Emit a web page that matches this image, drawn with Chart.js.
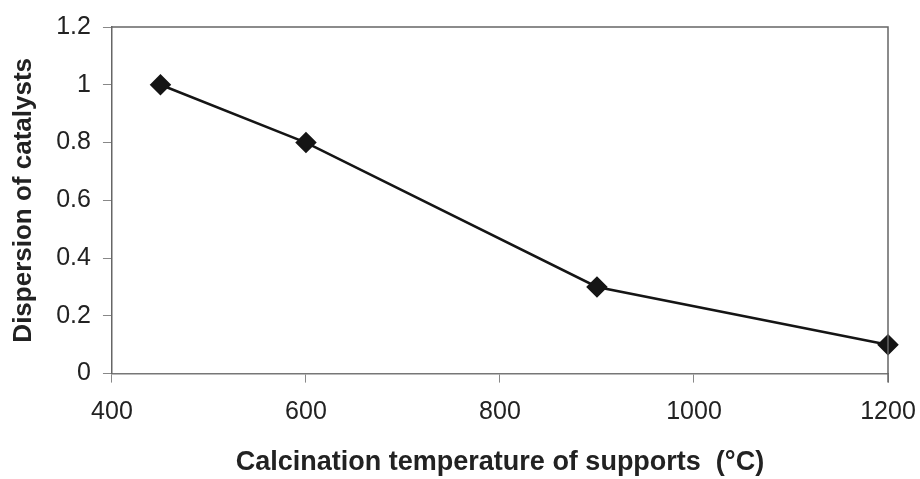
<!DOCTYPE html>
<html>
<head>
<meta charset="utf-8">
<script src="https://cdn.jsdelivr.net/npm/chart.js@4"></script>
<style>
  body { margin: 0; background: #fff; }
  #wrap { width: 920px; height: 479px; }
</style>
</head>
<body>
<div id="wrap"><canvas id="grafico" width="920" height="479"></canvas></div>
<script>
// calcination temperature (oC) vs dispersion
var temperaturas = [450, 600, 900, 1200];
var dispersion = [1.0, 0.8, 0.3, 0.1];
var x_ticks = [400, 600, 800, 1000, 1200];
var y_ticks = [0, 0.2, 0.4, 0.6, 0.8, 1, 1.2];

var puntos = [];
for (i = 0; i < temperaturas.length; i++) {
    puntos.push({ x: temperaturas[i], y: dispersion[i] });
}

// top + right frame of the plot area
var marco = {
    id: 'marco',
    afterDraw: function (chart) {
        var a = chart.chartArea;
        var c = chart.ctx;
        c.save();
        c.strokeStyle = '#666';
        c.lineWidth = 1.5;
        c.beginPath();
        c.moveTo(a.left, a.top);
        c.lineTo(a.right, a.top);
        c.lineTo(a.right, a.bottom + 9);
        c.stroke();
        c.restore();
    }
};

var ctx = document.getElementById('grafico').getContext('2d');
var chart_disp = new Chart(ctx, {
    type: 'line',
    data: {
        datasets: [{
            data: puntos,
            borderColor: '#151515',
            backgroundColor: '#151515',
            borderWidth: 2.5,
            pointStyle: 'rectRot',
            pointRadius: 9,
            pointHoverRadius: 9,
            tension: 0,
            fill: false,
            clip: false
        }]
    },
    options: {
        responsive: false,
        animation: false,
        layout: { padding: { top: 7, right: 0, left: 8, bottom: 0 } },
        plugins: { legend: { display: false }, tooltip: { enabled: false } },
        scales: {
            x: {
                type: 'linear',
                min: 400,
                max: 1200,
                afterBuildTicks: function (axis) {
                    axis.ticks = x_ticks.map(function (v) { return { value: v }; });
                },
                afterFit: function (axis) {
                    // room for the half of "1200" only
                    axis.paddingRight = 32;
                },
                grid: { drawOnChartArea: false, drawTicks: true, tickLength: 9, color: '#888' },
                border: { color: '#777', width: 1.5, dash: [6, 3] },
                ticks: {
                    color: '#222',
                    padding: 15,
                    maxRotation: 0,
                    callback: function (v) { return String(v); },
                    font: { family: 'Liberation Sans', size: 25 }
                },
                title: {
                    display: true,
                    text: 'Calcination temperature of supports  (\u00B0C)',
                    color: '#222',
                    padding: { top: 4, bottom: 0 },
                    font: { family: 'Liberation Sans', size: 27, weight: 'bold' }
                }
            },
            y: {
                min: 0,
                max: 1.2,
                afterBuildTicks: function (axis) {
                    axis.ticks = y_ticks.map(function (v) { return { value: v }; });
                },
                grid: { drawOnChartArea: false, drawTicks: true, tickLength: 9, color: '#888' },
                border: { color: '#666', width: 1.5 },
                ticks: {
                    color: '#222',
                    padding: 12,
                    callback: function (v) { return String(v); },
                    font: { family: 'Liberation Sans', size: 25 }
                },
                title: {
                    display: true,
                    text: 'Dispersion of catalysts',
                    color: '#222',
                    padding: { top: 0, bottom: 5 },
                    font: { family: 'Liberation Sans', size: 26, weight: 'bold' }
                }
            }
        }
    },
    plugins: [marco]
});
</script>
</body>
</html>
